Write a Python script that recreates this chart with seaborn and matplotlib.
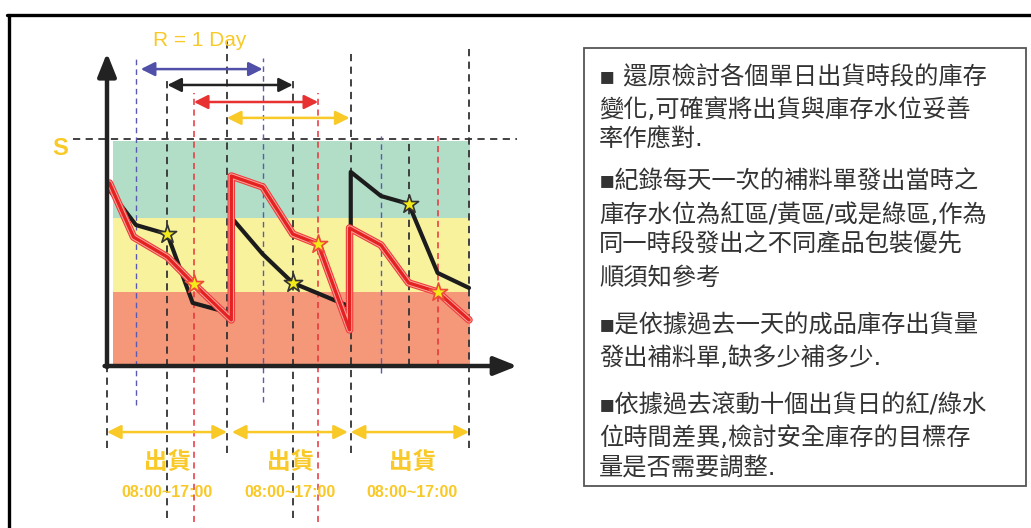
import matplotlib
matplotlib.use("Agg")
import matplotlib.pyplot as plt
import matplotlib.patheffects as pe
from matplotlib.patches import Rectangle
from matplotlib.lines import Line2D
import seaborn as sns

# ---- inventory curves (x: shipping days, y: stock level, S = 100) ----
black_x = [0, 0.24, 0.5, 0.71, 1.02, 1.02, 1.29, 1.54, 2.02, 2.02, 2.27, 2.5, 2.74, 3.0]
black_y = [78.9, 62.1, 58.1, 27.8, 23.3, 66.1, 49.3, 36.6, 26.0, 85.5, 74.9, 71.4, 41.0, 34.4]
red_x = [0.02, 0.22, 0.5, 0.72, 1.03, 1.03, 1.29, 1.54, 1.75, 2.01, 2.01, 2.27, 2.5, 2.74, 3.0]
red_y = [80.6, 56.8, 48.0, 36.1, 20.3, 83.7, 78.9, 58.1, 53.7, 15.9, 60.8, 53.3, 36.6, 32.6, 20.3]

# replenishment-order checkpoints (stars)
black_star_x = [0.5, 1.54, 2.5]
black_star_y = [58.1, 36.6, 71.4]
red_star_x = [0.72, 1.75, 2.74]
red_star_y = [36.1, 53.7, 32.6]

# stock zones
zone_edges = [0, 32.6, 65.2, 99.1]
zone_colors = ["#f5987a", "#f8f29d", "#b2dec8"]
zone_x = [0.05, 3.01]
s_level = 100

# checkpoint times within each day
black_marks = [0, 0.5, 0.994, 1.54, 2.02, 2.5, 3.0]
black_tops = [0, 127.3, 144.9, 127.3, 137.9, 100, 140.5]
black_bots = [-36.1, -67.0, -38.3, -67.0, -38.3, 0, -36.1]
blue_marks = [0.24, 1.29, 2.27]
blue_tops = [135.7, 135.7, 101.3]
blue_bots = [-17.2, -15.9, -3.1]
red_marks = [0.72, 1.75, 2.74]
red_tops = [120.3, 120.3, 101.3]
red_bots = [-68.7, -68.7, 0]

# one-day review windows (R = 1 Day)
window_start = [0.28, 0.5, 0.72, 0.994]
window_end = [1.29, 1.54, 1.75, 2.01]
window_level = [130.8, 123.8, 116.3, 109.3]
window_colors = ["#5050a8", "#222222", "#e83232", "#f9c928"]

# shipping periods
ship_start = [0, 1.035, 2.02]
ship_end = [0.994, 1.996, 3.0]
ship_level = -29.1
ship_label_x = [0.5, 1.52, 2.53]
ship_label = "出貨"
ship_hours = "08:00~17:00"

notes = [
    ["▪ 還原檢討各個單日出貨時段的庫存", "變化,可確實將出貨與庫存水位妥善", "率作應對."],
    ["▪紀錄每天一次的補料單發出當時之", "庫存水位為紅區/黃區/或是綠區,作為",
     "同一時段發出之不同產品包裝優先", "順須知參考"],
    ["▪是依據過去一天的成品庫存出貨量", "發出補料單,缺多少補多少."],
    ["▪依據過去滾動十個出貨日的紅/綠水", "位時間差異,檢討安全庫存的目標存", "量是否需要調整."],
]
note_rows = [[77, 110, 140], [182, 215, 245, 278], [325, 358], [405, 438, 468]]

sns.set_theme(style="white")
plt.rcParams["font.family"] = ["Noto Sans CJK TC", "DejaVu Sans"]

W, H = 1031, 528
fig = plt.figure(figsize=(W / 100, H / 100), dpi=100)
fig.patch.set_facecolor("white")
ax = fig.add_axes([0, 0, 1, 1])
ax.set_xlim(-107 / 120.67, (W - 107) / 120.67)
ax.set_ylim((366 - H) / 2.27, 366 / 2.27)
ax.axis("off")

yellow = "#f9c928"

# zones
for lo, hi, c in zip(zone_edges[:-1], zone_edges[1:], zone_colors):
    ax.fill_between(zone_x, lo, hi, color=c, lw=0, zorder=1)

# S line
ax.plot([-0.28, 3.40], [s_level, s_level], color="#333333", lw=1.3,
        ls=(0, (4, 3)), zorder=2)
ax.text(-0.39, 96.0, "S", color=yellow, fontsize=17, fontweight="bold",
        ha="center", va="center", family=["Liberation Sans", "DejaVu Sans"])

# vertical dashed checkpoints
ax.vlines(black_marks, black_bots, black_tops, colors="#333333", lw=1.3,
          linestyles=[(0, (4, 3))], zorder=2)
ax.vlines(blue_marks, blue_bots, blue_tops, colors="#5a5ab0", lw=1.0,
          linestyles=[(0, (4, 3))], zorder=2)
ax.vlines(red_marks, red_bots, red_tops, colors="#e8323a", lw=1.1,
          linestyles=[(0, (4, 3))], zorder=2)

# inventory curves
sns.lineplot(x=red_x, y=red_y, sort=False, estimator=None, ax=ax,
             color="#e52222", lw=2.4, zorder=4,
             path_effects=[pe.Stroke(linewidth=5.4, foreground="#ef3b3b"),
                           pe.Stroke(linewidth=3.8, foreground="#f9a89e"),
                           pe.Normal()])
sns.lineplot(x=black_x, y=black_y, sort=False, estimator=None, ax=ax,
             color="#1c1c1c", lw=3.0, zorder=3)

sns.scatterplot(x=black_star_x, y=black_star_y, marker="*", s=190,
                color="#f3ea1a", edgecolor="#333333", linewidth=1.2, ax=ax, zorder=5)
sns.scatterplot(x=red_star_x, y=red_star_y, marker="*", s=190,
                color="#f3ea1a", edgecolor="#f04a3a", linewidth=1.2, ax=ax, zorder=5)

# axes arrows
axis_style = dict(arrowstyle="-|>,head_length=0.7,head_width=0.28", lw=3.2,
                  color="#222222", mutation_scale=20, shrinkA=0, shrinkB=0)
ax.annotate("", xy=(0, 137.9), xytext=(0, -0.5), arrowprops=axis_style, zorder=6)
ax.annotate("", xy=(3.40, 0), xytext=(-0.02, 0), arrowprops=axis_style, zorder=6)

# review windows
for x0, x1, lv, c in zip(window_start, window_end, window_level, window_colors):
    ax.annotate("", xy=(x1, lv), xytext=(x0, lv),
                arrowprops=dict(arrowstyle="<|-|>,head_length=0.6,head_width=0.3",
                                lw=1.8, color=c, mutation_scale=14,
                                shrinkA=0, shrinkB=0), zorder=6)
ax.text(0.77, 143.6, "R = 1 Day", color=yellow, fontsize=15, ha="center",
        va="center", family=["Liberation Sans", "DejaVu Sans"])

# shipping periods
for x0, x1 in zip(ship_start, ship_end):
    ax.annotate("", xy=(x1, ship_level), xytext=(x0, ship_level),
                arrowprops=dict(arrowstyle="<|-|>,head_length=0.6,head_width=0.3",
                                lw=1.8, color=yellow, mutation_scale=14,
                                shrinkA=0, shrinkB=0), zorder=6)
for xc in ship_label_x:
    ax.text(xc, -42.3, ship_label, color=yellow, fontsize=17, fontweight="bold",
            ha="center", va="center")
    ax.text(xc, -55.9, ship_hours, color=yellow, fontsize=11.5, fontweight="bold",
            ha="center", va="center", family=["Liberation Sans", "DejaVu Sans"])

# notes box
fig.add_artist(Rectangle((584 / W, 1 - 486 / H), (1026 - 584) / W, (486 - 48) / H,
                         transform=fig.transFigure, fill=False,
                         edgecolor="#555555", lw=1.3))
for para, rows in zip(notes, note_rows):
    for line, yp in zip(para, rows):
        fig.text(599 / W, 1 - yp / H, line, color="#333333", fontsize=17.5,
                 ha="left", va="center",
                 family=["DejaVu Sans", "Noto Sans CJK TC"])

# outer frame
fig.add_artist(Line2D([7 / W, 1], [1 - 14.5 / H, 1 - 14.5 / H],
                      transform=fig.transFigure, color="black", lw=2.4))
fig.add_artist(Line2D([8.5 / W, 8.5 / W], [0, 1 - 14.5 / H],
                      transform=fig.transFigure, color="black", lw=2.4))

fig.savefig("out.png", dpi=100, facecolor="white")
